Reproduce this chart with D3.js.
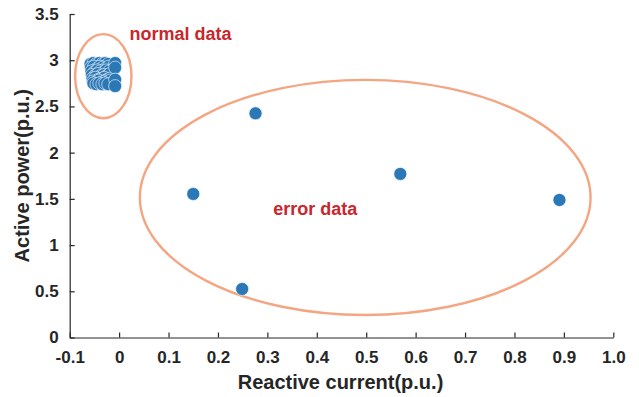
<!DOCTYPE html>
<html>
<head>
<meta charset="utf-8">
<script src="https://cdn.jsdelivr.net/npm/d3@7"></script>
<style>
  html, body { margin: 0; padding: 0; background: #fff; }
  svg { display: block; }
  text { font-family: "Liberation Sans", Arial, sans-serif; font-weight: bold; }
</style>
</head>
<body>
<svg id="chart" width="639" height="397"></svg>
<script>
// Normal operating samples (dense cluster near zero reactive current)
const normalX = [
  -0.058, -0.052, -0.046, -0.040, -0.034, -0.028, -0.022,
  -0.057, -0.051, -0.045, -0.039, -0.033, -0.027, -0.021,
  -0.056, -0.050, -0.044, -0.038, -0.032, -0.026, -0.020,
  -0.055, -0.049, -0.043, -0.037, -0.031, -0.025, -0.019,
  -0.054, -0.048, -0.042, -0.036, -0.030, -0.024, -0.019,
  -0.053, -0.047, -0.041, -0.035, -0.029, -0.023, -0.018,
  -0.052, -0.046, -0.040, -0.034, -0.028, -0.022,
  -0.008, -0.008, -0.008, -0.008
];
const normalY = [
  2.96, 2.97, 2.96, 2.97, 2.96, 2.97, 2.96,
  2.92, 2.93, 2.91, 2.93, 2.92, 2.91, 2.93,
  2.88, 2.87, 2.89, 2.88, 2.87, 2.89, 2.88,
  2.84, 2.83, 2.85, 2.83, 2.84, 2.83, 2.85,
  2.80, 2.81, 2.79, 2.80, 2.81, 2.79, 2.80,
  2.77, 2.76, 2.78, 2.76, 2.77, 2.76, 2.78,
  2.75, 2.74, 2.75, 2.74, 2.75, 2.74,
  2.97, 2.92, 2.79, 2.72
];

// Abnormal samples
const errorX = [0.150, 0.276, 0.249, 0.569, 0.891];
const errorY = [1.553, 2.425, 0.525, 1.770, 1.488];

// Annotation ellipses in data units: centre x, centre y, half-width, half-height
const ellipseCx = [-0.032, 0.498];
const ellipseCy = [2.827, 1.515];
const ellipseRx = [0.057, 0.456];
const ellipseRy = [0.455, 1.272];

const annotationText = ["normal data", "error data"];
const annotationX = [0.021, 0.312];
const annotationY = [3.22, 1.33];

const xTicks = [-0.1, 0, 0.1, 0.2, 0.3, 0.4, 0.5, 0.6, 0.7, 0.8, 0.9, 1.0];
const xTickLabels = ["-0.1", "0", "0.1", "0.2", "0.3", "0.4", "0.5", "0.6", "0.7", "0.8", "0.9", "1.0"];
const yTicks = [0, 0.5, 1, 1.5, 2, 2.5, 3, 3.5];
const yTickLabels = ["0", "0.5", "1", "1.5", "2", "2.5", "3", "3.5"];

const svg = d3.select("#chart");
const x = d3.scaleLinear().domain([-0.1, 1.0]).range([69.7, 613.3]);
const y = d3.scaleLinear().domain([0, 3.5]).range([337.5, 14]);

const axisColor = "#262626";

// Axes (inward ticks, no box)
const xAxis = d3.axisBottom(x).tickValues(xTicks)
  .tickFormat((d, i) => xTickLabels[i]).tickSizeInner(-5).tickSizeOuter(0).tickPadding(13);
const yAxis = d3.axisLeft(y).tickValues(yTicks)
  .tickFormat((d, i) => yTickLabels[i]).tickSizeInner(-5).tickSizeOuter(0).tickPadding(11);

const gx = svg.append("g").attr("transform", `translate(0,${y(0)})`).call(xAxis);
const gy = svg.append("g").attr("transform", `translate(${x(-0.1)},0)`).call(yAxis);
[gx, gy].forEach(g => {
  g.selectAll("path, line").attr("stroke", axisColor).attr("stroke-width", 1.2);
  g.selectAll("text").attr("fill", axisColor).style("font-size", "17px")
    .style("font-family", "'Liberation Sans', Arial, sans-serif").style("font-weight", "bold");
});

// Axis titles
svg.append("text")
  .attr("x", (x(-0.1) + x(1.0)) / 2 - 1).attr("y", 389)
  .attr("text-anchor", "middle").attr("fill", axisColor).style("font-size", "20px")
  .text("Reactive current(p.u.)");
svg.append("text")
  .attr("transform", `translate(29,${(y(0) + y(3.5)) / 2}) rotate(-90)`)
  .attr("text-anchor", "middle").attr("fill", axisColor).style("font-size", "20px")
  .text("Active power(p.u.)");

// Ellipses marking the two groups
svg.append("g").selectAll("ellipse")
  .data(ellipseCx.map((cx, i) => ({ cx, cy: ellipseCy[i], rx: ellipseRx[i], ry: ellipseRy[i] })))
  .join("ellipse")
  .attr("cx", d => x(d.cx)).attr("cy", d => y(d.cy))
  .attr("rx", d => x(d.cx + d.rx) - x(d.cx)).attr("ry", d => y(d.cy) - y(d.cy + d.ry))
  .attr("fill", "none").attr("stroke", "#f4a582").attr("stroke-width", 2.4);

// Scatter points
const markerFill = "#2a78b6";
const points = normalX.map((v, i) => [v, normalY[i]]).concat(errorX.map((v, i) => [v, errorY[i]]));
svg.append("g").selectAll("circle")
  .data(points).join("circle")
  .attr("cx", d => x(d[0])).attr("cy", d => y(d[1])).attr("r", 6.5)
  .attr("fill", markerFill).attr("stroke", "#ffffff").attr("stroke-width", 0.7).attr("stroke-opacity", 0.85);

// Group labels
svg.append("g").selectAll("text")
  .data(annotationText).join("text")
  .attr("x", (d, i) => x(annotationX[i])).attr("y", (d, i) => y(annotationY[i]))
  .attr("fill", "#c8272d").style("font-size", "18px")
  .text(d => d);
</script>
</body>
</html>
